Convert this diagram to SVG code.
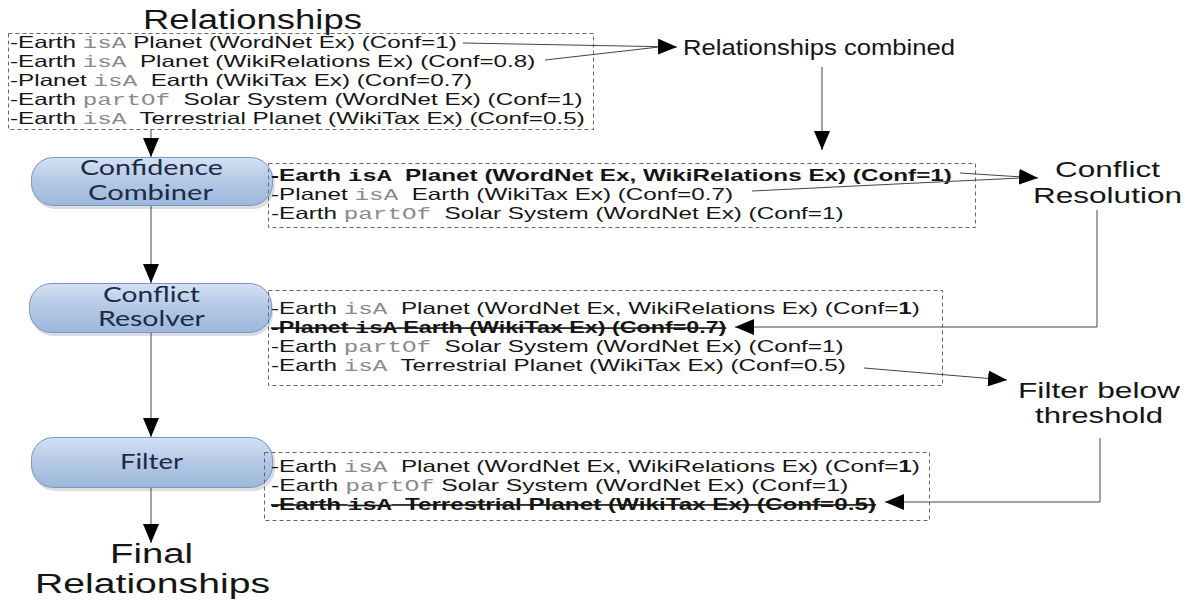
<svg xmlns="http://www.w3.org/2000/svg" width="1190" height="603" viewBox="0 0 1190 603">
<style>
.t{font-family:"Liberation Sans",Arial,sans-serif;font-size:16.5px;fill:#151515}
.m{font-family:"Liberation Mono","Courier New",monospace;fill:#8a8a8a}
.mb{font-family:"Liberation Mono","Courier New",monospace;font-weight:bold;fill:#151515}
.b{font-weight:bold}
.s{text-decoration:line-through}
.lbl{font-family:"Liberation Sans",Arial,sans-serif;fill:#151515}
.nt{font-family:Lato,"Open Sans",sans-serif;font-size:21px;fill:#1c2a48}
.box{fill:none;stroke:#666;stroke-width:1;stroke-dasharray:4 3}
.node{fill:url(#ng);stroke:#7896c4;stroke-width:1}
.sh{fill:#c3c7cf;opacity:0.6}
.c{fill:none;stroke:#444;stroke-width:1}
.ca{fill:none;stroke:#444;stroke-width:1;marker-end:url(#ah)}
</style>
<defs>
<linearGradient id="ng" x1="0" y1="0" x2="0" y2="1">
<stop offset="0" stop-color="#d4e1f2"/>
<stop offset="0.5" stop-color="#b3c8e5"/>
<stop offset="1" stop-color="#9db7db"/>
</linearGradient>
<marker id="ah" markerUnits="userSpaceOnUse" markerWidth="19" markerHeight="16" refX="19" refY="8" orient="auto">
<path d="M0,0 L19,8 L0,16 z" fill="#000"/>
</marker>
</defs>
<rect width="1190" height="603" fill="#fff"/>

<g id="title">
<text class="lbl" x="143" y="29" font-size="27" textLength="219" lengthAdjust="spacingAndGlyphs">Relationships</text>
</g>

<g id="relationships-box">
<rect class="box" x="8.5" y="33.5" width="585" height="96"/>
<text class="t" xml:space="preserve" transform="translate(10,47.5) scale(1.47,1)">-Earth <tspan class="m">isA</tspan> Planet (WordNet Ex) (Conf=1)</text>
<text class="t" xml:space="preserve" transform="translate(10,66.5) scale(1.47,1)">-Earth <tspan class="m">isA</tspan>  Planet (WikiRelations Ex) (Conf=0.8)</text>
<text class="t" xml:space="preserve" transform="translate(10,85.5) scale(1.47,1)">-Planet <tspan class="m">isA</tspan>  Earth (WikiTax Ex) (Conf=0.7)</text>
<text class="t" xml:space="preserve" transform="translate(10,104.5) scale(1.47,1)">-Earth <tspan class="m">partOf</tspan>  Solar System (WordNet Ex) (Conf=1)</text>
<text class="t" xml:space="preserve" transform="translate(10,123.5) scale(1.47,1)">-Earth <tspan class="m">isA</tspan>  Terrestrial Planet (WikiTax Ex) (Conf=0.5)</text>
</g>

<g id="relationships-combined">
<text class="lbl" x="683" y="55" font-size="22" textLength="272" lengthAdjust="spacingAndGlyphs">Relationships combined</text>
</g>

<g id="confidence-combiner">
<rect class="sh" x="33" y="160" width="242" height="49" rx="22"/>
<rect class="node" x="31.5" y="157.5" width="241" height="48" rx="22"/>
<text class="nt" x="80" y="175" textLength="143" lengthAdjust="spacingAndGlyphs">Confidence</text>
<text class="nt" x="88" y="200" textLength="125" lengthAdjust="spacingAndGlyphs">Combiner</text>
</g>

<g id="combined-box">
<rect class="box" x="268.5" y="163.5" width="707" height="64"/>
<text class="t b" xml:space="preserve" transform="translate(271,181) scale(1.47,1)">-Earth <tspan class="mb">isA</tspan>  Planet (WordNet Ex, WikiRelations Ex) (Conf=1)</text>
<text class="t" xml:space="preserve" transform="translate(271,200) scale(1.47,1)">-Planet <tspan class="m">isA</tspan>  Earth (WikiTax Ex) (Conf=0.7)</text>
<text class="t" xml:space="preserve" transform="translate(271,219) scale(1.47,1)">-Earth <tspan class="m">partOf</tspan>  Solar System (WordNet Ex) (Conf=1)</text>
</g>

<g id="conflict-resolution">
<text class="lbl" x="1055" y="177" font-size="22" textLength="105" lengthAdjust="spacingAndGlyphs">Conflict</text>
<text class="lbl" x="1033" y="203" font-size="22" textLength="149" lengthAdjust="spacingAndGlyphs">Resolution</text>
</g>

<g id="conflict-resolver">
<rect class="sh" x="31" y="286" width="242" height="50" rx="22"/>
<rect class="node" x="29.5" y="283.5" width="242" height="49" rx="22"/>
<text class="nt" x="103" y="302" textLength="97" lengthAdjust="spacingAndGlyphs">Conflict</text>
<text class="nt" x="98" y="326" textLength="107" lengthAdjust="spacingAndGlyphs">Resolver</text>
</g>

<g id="resolved-box">
<rect class="box" x="268.5" y="290.5" width="674" height="95"/>
<text class="t" xml:space="preserve" transform="translate(271,314) scale(1.47,1)">-Earth <tspan class="m">isA</tspan>  Planet (WordNet Ex, WikiRelations Ex) (Conf=<tspan class="b">1</tspan>)</text>
<text class="t b s" xml:space="preserve" transform="translate(271,333) scale(1.41,1)">-Planet <tspan class="mb">isA</tspan> Earth (WikiTax Ex) (Conf=0.7)</text>
<text class="t" xml:space="preserve" transform="translate(271,352) scale(1.47,1)">-Earth <tspan class="m">partOf</tspan>  Solar System (WordNet Ex) (Conf=1)</text>
<text class="t" xml:space="preserve" transform="translate(271,371) scale(1.47,1)">-Earth <tspan class="m">isA</tspan>  Terrestrial Planet (WikiTax Ex) (Conf=0.5)</text>
</g>

<g id="filter-below-threshold">
<text class="lbl" x="1018" y="398" font-size="22" textLength="162" lengthAdjust="spacingAndGlyphs">Filter below</text>
<text class="lbl" x="1035" y="423" font-size="22" textLength="128" lengthAdjust="spacingAndGlyphs">threshold</text>
</g>

<g id="filter">
<rect class="sh" x="33" y="440" width="242" height="51" rx="22"/>
<rect class="node" x="31.5" y="437.5" width="241" height="50" rx="22"/>
<text class="nt" x="120" y="469" textLength="63" lengthAdjust="spacingAndGlyphs">Filter</text>
</g>

<g id="filtered-box">
<rect class="box" x="264.5" y="452.5" width="665" height="68"/>
<text class="t" xml:space="preserve" transform="translate(271,472) scale(1.47,1)">-Earth <tspan class="m">isA</tspan>  Planet (WordNet Ex, WikiRelations Ex) (Conf=<tspan class="b">1</tspan>)</text>
<text class="t" xml:space="preserve" transform="translate(271,491) scale(1.5,1)">-Earth <tspan class="m">partOf</tspan> Solar System (WordNet Ex) (Conf=1)</text>
<text class="t b s" xml:space="preserve" transform="translate(271,510) scale(1.47,1)">-Earth <tspan class="mb">isA</tspan>  Terrestrial Planet (WikiTax Ex) (Conf=0.5)</text>
</g>

<g id="final-relationships">
<text class="lbl" x="110" y="563" font-size="27" textLength="83" lengthAdjust="spacingAndGlyphs">Final</text>
<text class="lbl" x="35" y="593" font-size="27" textLength="235" lengthAdjust="spacingAndGlyphs">Relationships</text>
</g>

<g id="connectors">
<path class="ca" d="M151,130 V157"/>
<path class="ca" d="M151,206 V283"/>
<path class="ca" d="M151,333 V437"/>
<path class="ca" d="M151,488 V543"/>
<path class="ca" d="M463,43 L677,47"/>
<path class="c" d="M545,60 L659,47"/>
<path class="ca" d="M822,67 V150"/>
<path class="ca" d="M960,173 L1038,178"/>
<path class="c" d="M752,191 L1020,178"/>
<path class="ca" d="M1097,210 V327 H735"/>
<path class="ca" d="M864,368 L1007,380"/>
<path class="ca" d="M1100,438 V502 H885"/>
</g>
</svg>
